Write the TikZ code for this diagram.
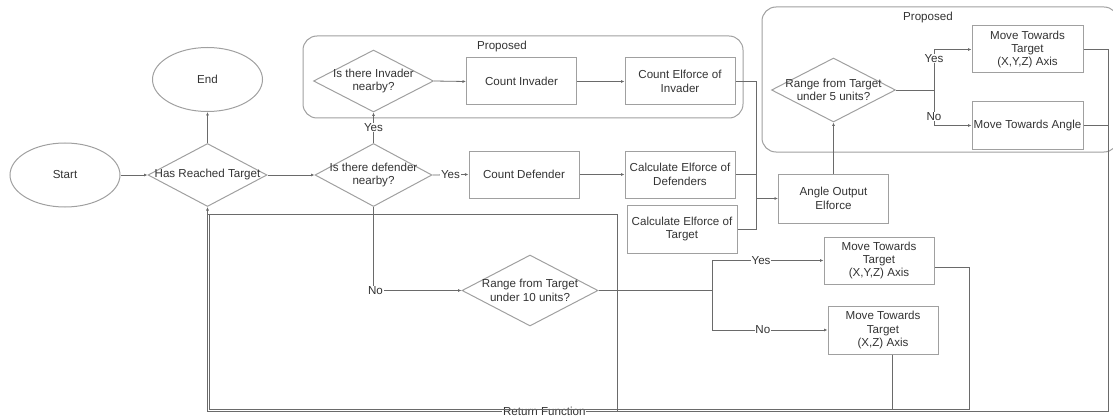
\documentclass[tikz,border=0pt]{standalone}
\usepackage{fontspec}
\setmainfont{Liberation Sans}
\usetikzlibrary{shapes.geometric,arrows.meta}
\definecolor{shp}{HTML}{A0A0A0}
\definecolor{lnc}{HTML}{6A6A6A}
\definecolor{txc}{HTML}{333333}
\begin{document}
\begin{tikzpicture}[x=1pt,y=-1pt,
  every node/.style={font=\fontsize{11.6}{13.3}\selectfont, text=txc},
  box/.style={draw=shp, line width=1pt, rectangle, align=center, inner sep=1pt, minimum width=110pt, minimum height=47pt},
  dia/.style={diamond, draw=shp, line width=1pt, inner sep=0pt},
  term/.style={ellipse, draw=shp, line width=1pt, minimum width=110pt, minimum height=64pt},
  grp/.style={draw=shp, line width=1pt, rounded corners=14pt, rectangle},
  dtext/.style={align=center, inner sep=0pt},
  conn/.style={draw=lnc, line width=0.8pt},
  arr/.style={conn, -{Latex[length=3.5pt,width=3pt]}},
  lbl/.style={fill=white, inner sep=0.6pt}]
\useasboundingbox (0,0) rectangle (1113,417);

% groups
\node[grp, minimum width=440pt, minimum height=82pt] (prop1) at (523,77) {};
\node (prop1L) at (502,47) {Proposed};
\node[grp, minimum width=356pt, minimum height=145pt] (prop2) at (940,79.5) {};
\node (prop2L) at (928,18) {Proposed};

% terminals
\node[term] (start) at (65,175) {Start};
\node[term] (end) at (207.5,79.5) {End};

% diamonds
\node[dia, minimum width=119pt, minimum height=63pt] (hrt) at (207.5,175) {};
\node[dtext] (hrtT) at (hrt) {Has Reached Target};
\node[dia, minimum width=117pt, minimum height=63pt] (def) at (373.5,175) {};
\node[dtext] (defT) at (def) {Is there defender\\nearby?};
\node[dia, minimum width=120pt, minimum height=62pt] (inv) at (373.5,81) {};
\node[dtext] (invT) at (inv) {Is there Invader\\nearby?};
\node[dia, minimum width=124pt, minimum height=64pt] (d5) at (833.5,90) {};
\node[dtext] (d5T) at (d5) {Range from Target\\under 5 units?};
\node[dia, minimum width=136pt, minimum height=71pt] (r10) at (530,290.5) {};
\node[dtext] (r10T) at (r10) {Range from Target\\under 10 units?};

% boxes
\node[box] (CI) at (521.5,81.5) {Count Invader};
\node[box] (CEI) at (680,81.5) {Count Elforce of\\Invader};
\node[box] (CD) at (524,174.5) {Count Defender};
\node[box] (CED) at (680,174.5) {Calculate Elforce of\\Defenders};
\node[box, minimum height=48pt] (CET) at (682,229) {Calculate Elforce of\\Target};
\node[box, minimum height=49pt] (AO) at (833.5,198.5) {Angle Output\\Elforce};
\node[box, minimum width=111pt] (MT1) at (1027.5,49.5) {Move Towards\\Target\\(X,Y,Z) Axis};
\node[box, minimum width=111pt] (MA) at (1027.5,125.5) {Move Towards Angle};
\node[box] (MT2) at (879,260.5) {Move Towards\\Target\\(X,Y,Z) Axis};
\node[box, minimum height=48pt] (MT3) at (883,330) {Move Towards\\Target\\(X,Z) Axis};

% junction coordinates
\coordinate (j1) at (756,198.5);
\coordinate (s5) at (934,90);
\coordinate (s10) at (712,290.5);
\coordinate (rb) at (1108,411.5);
\coordinate (rl) at (207.5,411.5);
\coordinate (b2) at (969,409.5);
\coordinate (l2) at (209,409.5);
\coordinate (mid) at (617,411);
\coordinate (up) at (617,214);
\coordinate (upl) at (207.5,214);

% main flow
\draw[arr] (start) -- (hrt.west);
\draw[arr] (hrt.north) -- (end.south);
\draw[arr] (hrt.east) -- (def.west);
\draw[arr] (def.east) -- node[lbl] (y1) {Yes} (CD.west);
\draw[arr] (def.north) -- node[lbl] (y2) {Yes} (inv.south);
\draw[arr] (inv.east) -- (CI.west);
\draw[arr] (CI) -- (CEI);
\draw[arr] (CD) -- (CED);
\draw[arr] (CEI.east) -| (j1) -- (AO.west);
\draw[conn] (CED.east) -- (CED.east -| j1);
\draw[conn] (CET.east) -| (j1);
\draw[arr] (AO.north) -- (d5.south);
\draw[conn] (d5.east) -- (s5);
\draw[arr] (s5) |- node[lbl, pos=0.39] (y3) {Yes} (MT1.west);
\draw[arr] (s5) |- node[lbl, pos=0.37] (n3) {No} (MA.west);
\draw[arr] (def.south) |- node[lbl, pos=0.5, xshift=2pt] (n1) {No} (r10.west);
\draw[conn] (r10.east) -- (s10);
\draw[arr] (s10) |- node[lbl, pos=0.72] (y4) {Yes} (MT2.west);
\draw[arr] (s10) |- node[lbl, pos=0.72] (n4) {No} (MT3.west);

% return paths
\draw[conn] (MT1.east) -- (MT1.east -| rb);
\draw[conn] (MA.east) -- (MA.east -| rb);
\draw[arr] (MT1.east -| rb) -- (rb) -- node[lbl, pos=0.626] (ret) {Return Function} (rl) -- (hrt.south);
\draw[conn] ([yshift=-6.5pt]MT2.east) -| (b2) -- (l2) -- (l2 |- up);
\draw[conn] ([xshift=9pt]MT3.south) -- ([xshift=9pt]MT3.south |- b2);
\draw[conn] (mid) -- (up) -- (upl);
\end{tikzpicture}
\end{document}
